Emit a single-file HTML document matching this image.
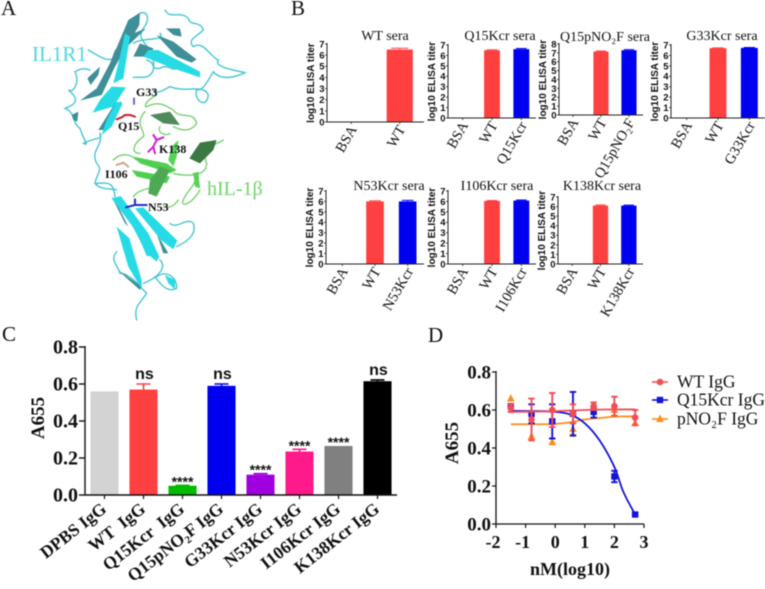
<!DOCTYPE html>
<html lang="en">
<head>
<meta charset="utf-8">
<title>IL-1β antibody figure</title>
<style>
html,body{margin:0;padding:0;background:#fff;width:765px;height:589px;overflow:hidden}
svg{display:block;filter:blur(0.45px)}
text{fill:#111}
.serif{font-family:"Liberation Serif",serif}
.sans{font-family:"Liberation Sans",sans-serif}
</style>
</head>
<body>
<svg id="figure" xmlns="http://www.w3.org/2000/svg" width="765" height="589" viewBox="0 0 765 589">
  <rect width="765" height="589" fill="#fff"/>
  <text class="serif" x="1" y="15" font-size="21">A</text>
  <text class="serif" x="291" y="15" font-size="21">B</text>
  <text class="serif" x="2" y="341" font-size="21">C</text>
  <text class="serif" x="428" y="342" font-size="21">D</text>

  <g>
    <g transform="scale(0.3333)">
      <g fill="none" stroke="#3fc4cf" stroke-width="4" stroke-linecap="round">
        <path d="M495 30C510 60 540 30 565 55C570 80 600 60 610 90C590 110 560 120 580 140C610 120 630 170 655 180C640 200 700 210 735 218C700 235 660 240 640 215"/>
        <path d="M420 40C445 30 450 60 430 85C400 130 470 130 460 210C450 240 420 230 400 232"/>
        <path d="M400 130C430 110 500 125 480 100"/>
        <path d="M640 215C620 250 610 270 590 270C580 300 620 330 625 285C610 250 560 280 510 260C490 270 470 285 460 270"/>
        <path d="M265 150C300 170 320 190 355 170"/>
        <path d="M270 210C240 200 230 215 225 215C240 250 220 280 205 270C230 290 240 310 195 325C230 340 215 370 240 385C250 420 270 440 250 430C290 410 310 420 300 400"/>
        <path d="M300 400C310 440 270 450 290 490C310 510 290 520 285 550C320 550 340 540 345 590"/>
        <path d="M530 740C570 720 590 700 580 670C560 650 530 690 510 670"/>
        <path d="M350 755C330 780 350 790 360 820C390 820 420 860 440 880C420 910 400 920 410 960"/>
        <path d="M470 830C500 810 530 830 530 865C500 880 480 850 465 830"/>
        <path d="M480 780C500 800 480 830 430 850"/>
        <path d="M440 180C470 190 450 210 480 205C500 190 520 215 530 205"/>
        <path d="M285 550C300 570 330 565 350 570"/>
      </g>
      <g fill="#3f8f98">
        <polygon points="385,60 420,38 418,75 345,200 305,285 240,302 290,265 330,190"/>
        <polygon points="438,85 350,170 330,190 345,150 400,100"/>
        <polygon points="470,105 520,125 590,178 575,188 530,170"/>
        <polygon points="498,85 540,85 545,110 520,105"/>
        <polygon points="262,235 300,200 295,225 272,255"/>
        <polygon points="215,345 235,335 232,365 220,360"/>
        <polygon points="335,590 345,600 385,680 375,670"/>
        <polygon points="470,700 505,760 490,760"/>
        <polygon points="355,810 425,860 420,870 375,830"/>
        <polygon points="420,130 460,145 450,170 400,170"/>
        <polygon points="295,390 345,310 365,305 320,390"/>
      </g>
      <g fill="#27dbe6">
        <polygon points="445,150 475,150 600,215 600,232 520,205 430,170"/>
        <polygon points="335,260 378,262 340,320 278,338 300,300"/>
        <polygon points="350,305 368,310 335,380 305,405 320,360"/>
        <polygon points="360,170 375,100 390,110 370,235 340,250"/>
        <polygon points="335,595 362,588 445,700 478,770 470,785 440,760 398,680"/>
        <polygon points="405,625 430,622 532,722 520,748 485,722"/>
        <polygon points="350,680 388,715 425,840 425,868 385,800"/>
        <polygon points="395,660 420,680 470,770 440,768"/>
        <polygon points="495,825 525,840 525,868 505,850"/>
      </g>
      <g fill="none" stroke="#74cf6e" stroke-width="4" stroke-linecap="round">
        <path d="M440 320C480 300 500 320 520 330C540 360 580 330 590 370C570 400 540 390 520 380"/>
        <path d="M435 335C400 370 440 400 430 410C400 430 390 460 420 460"/>
        <path d="M340 480C370 450 400 470 410 480"/>
        <path d="M520 520C560 530 620 530 620 490C600 440 640 440 670 420"/>
        <path d="M580 520C600 550 560 570 550 600C540 620 570 620 600 570"/>
        <path d="M400 590C420 560 470 570 470 550"/>
        <path d="M470 285C440 300 430 320 440 320M480 380C470 400 500 410 510 400"/>
        <path d="M535 600C520 620 510 625 490 620"/>
      </g>
      <g>
        <polygon fill="#4fcf4f" points="400,470 500,490 530,510 510,520 420,490"/>
        <polygon fill="#4fcf4f" points="395,510 510,530 500,550 410,530"/>
        <polygon fill="#4fa854" points="450,540 480,500 510,510 470,590 445,580"/>
        <polygon fill="#3a7a42" points="568,475 600,428 650,420 640,450 600,490"/>
        <polygon fill="#56d456" points="505,480 515,440 535,420 530,470 520,500"/>
        <polygon fill="#4e8a5a" points="450,345 510,335 540,375 490,370"/>
        <polygon fill="#56d456" points="580,520 595,515 600,565 585,560"/>
      </g>
      <g fill="none" stroke-width="6" stroke-linecap="round">
        <path stroke="#6a6ad0" d="M402 295V312"/>
        <path stroke="#c8202a" d="M350 358L365 352L375 345L390 345L405 350"/>
        <path stroke="#d020d0" d="M460 405L470 420L490 412M470 420L460 440L445 455M460 440L465 460"/>
        <path stroke="#c8a68e" d="M350 495L370 488L385 500"/>
        <path stroke="#1a30c8" d="M378 622L405 615L405 598M405 615L440 615"/>
      </g>
    </g>
    <text class="serif" x="32" y="61" font-size="21" style="fill:#4fd8e0">IL1R1</text>
    <text class="serif" x="207" y="195" font-size="20" style="fill:#6fd46a">hIL-1β</text>
    <g class="serif" font-size="12" font-weight="bold">
      <text x="136" y="96">G33</text>
      <text x="118" y="130">Q15</text>
      <text x="159" y="153">K138</text>
      <text x="105" y="178">I106</text>
      <text x="148" y="211">N53</text>
    </g>
  </g>
</svg>
<script>
// Panel B data
const wtSeraCategories = ['BSA', 'WT'];
const wtSeraValues = [0, 6.5];
const wtSeraErrors = [0, 0.12];
const wtSeraTicks = [0, 1, 2, 3, 4, 5, 6, 7];

const q15SeraCategories = ['BSA', 'WT', 'Q15Kcr'];
const q15SeraValues = [0, 6.5, 6.6];
const q15SeraErrors = [0, 0.05, 0.07];
const q15SeraTicks = [0, 1, 2, 3, 4, 5, 6, 7];

const pno2SeraCategories = ['BSA', 'WT', 'Q15pNO\u2082F'];
const pno2SeraValues = [0, 7.15, 7.3];
const pno2SeraErrors = [0, 0.06, 0.06];
const pno2SeraTicks = [0, 1, 2, 3, 4, 5, 6, 7, 8];

const g33SeraCategories = ['BSA', 'WT', 'G33Kcr'];
const g33SeraValues = [0, 6.7, 6.72];
const g33SeraErrors = [0, 0.02, 0.04];
const g33SeraTicks = [0, 1, 2, 3, 4, 5, 6, 7];

const n53SeraCategories = ['BSA', 'WT', 'N53Kcr'];
const n53SeraValues = [0, 6.0, 6.0];
const n53SeraErrors = [0, 0.07, 0.1];
const n53SeraTicks = [0, 1, 2, 3, 4, 5, 6, 7];

const i106SeraCategories = ['BSA', 'WT', 'I106Kcr'];
const i106SeraValues = [0, 6.05, 6.08];
const i106SeraErrors = [0, 0.04, 0.06];
const i106SeraTicks = [0, 1, 2, 3, 4, 5, 6, 7];

const k138SeraCategories = ['BSA', 'WT', 'K138Kcr'];
const k138SeraValues = [0, 6.1, 6.1];
const k138SeraErrors = [0, 0.06, 0.05];
const k138SeraTicks = [0, 1, 2, 3, 4, 5, 6, 7];

// Panel C data
const igGCategories = ['DPBS IgG', 'WT  IgG', 'Q15Kcr  IgG', 'Q15pNO\u2082F IgG', 'G33Kcr IgG', 'N53Kcr IgG', 'I106Kcr IgG', 'K138Kcr IgG'];
const igGValues = [0.56, 0.57, 0.05, 0.59, 0.11, 0.235, 0.265, 0.615];
const igGErrors = [0, 0.03, 0.002, 0.01, 0.005, 0.012, 0, 0.007];
const igGSignificance = ['', 'ns', '****', 'ns', '****', '****', '****', 'ns'];
const igGColors = ['#d3d3d3', '#ff4040', '#00bb00', '#0000f0', '#a000e0', '#ff1a8c', '#808080', '#000000'];
const igGTicks = [0, 0.2, 0.4, 0.6, 0.8];

// Panel D data
const doseX = [-1.5, -0.8, -0.1, 0.6, 1.3, 2, 2.7];
const wtDose = [0.61, 0.55, 0.6, 0.58, 0.62, 0.62, 0.56];
const wtDoseErr = [0.02, 0.11, 0.09, 0.05, 0.02, 0.05, 0.04];
const q15Dose = [0.62, 0.58, 0.54, 0.58, 0.59, 0.25, 0.05];
const q15DoseErr = [0.01, 0.05, 0.09, 0.115, 0.03, 0.03, 0.008];
const pno2Dose = [0.66, 0.46, 0.43, 0.5, 0.62, 0.6, 0.53];
const pno2DoseErr = [0, 0, 0, 0.03, 0, 0, 0];
const fitX = [-1.5, -0.5, 0, 0.5, 1, 1.5, 2, 2.3, 2.7];
const wtFit = [0.59, 0.592, 0.594, 0.597, 0.6, 0.602, 0.603, 0.603, 0.603];
const q15Fit = [0.595, 0.594, 0.591, 0.577, 0.53, 0.44, 0.3, 0.17, 0.05];
const pno2Fit = [0.525, 0.525, 0.527, 0.535, 0.55, 0.558, 0.565, 0.566, 0.566];
const doseXTicks = [-2, -1, 0, 1, 2, 3];
const doseYTicks = [0, 0.2, 0.4, 0.6, 0.8];
const legendLabels = ['WT IgG', 'Q15Kcr IgG', 'pNO\u2082F IgG'];

const NS = 'http://www.w3.org/2000/svg';
const root = document.getElementById('figure');

function make(tag, attrs, parent, text) {
  const el = document.createElementNS(NS, tag);
  for (const k in attrs) el.setAttribute(k, attrs[k]);
  if (text !== undefined) el.textContent = text;
  (parent || root).appendChild(el);
  return el;
}
function linear(d0, d1, r0, r1) {
  return v => r0 + (v - d0) * (r1 - r0) / (d1 - d0);
}

function elisaPanel(o) {
  const g = make('g', {});
  
  
  const y = linear(0, o.ticks[o.ticks.length - 1], o.y0, o.y1);
  const band = (o.x1 - o.x0) / o.cats.length;
  const title = make('text', {class: 'serif', x: o.tx, y: o.ty, 'font-size': o.tf || 14, 'text-anchor': 'middle'}, g, o.title);
  
  
  o.cats.forEach((c, i) => {
    const cx = o.x0 + band * (i + 0.5);
    const w = band * 0.54;
    if (o.vals[i] > 0) {
      const bar = make('rect', {x: cx - w / 2, y: y(o.vals[i]), width: w, height: o.y0 - y(o.vals[i]), fill: i === 1 ? '#ff4040' : '#0000f0'}, g);
      
      
      const err = make('path', {d: `M${cx} ${y(o.vals[i])}V${y(o.vals[i] + o.errs[i])}M${cx - w / 3} ${y(o.vals[i] + o.errs[i])}H${cx + w / 3}`, stroke: i === 1 ? '#ff4040' : '#0000f0', 'stroke-width': 1, fill: 'none'}, g);
      
      
    }
    const tick = make('line', {x1: cx, x2: cx, y1: o.y0, y2: o.y0 + 2, stroke: '#222', 'stroke-width': 0.8}, g);
    
    
    const lab = make('text', {class: 'serif', 'font-size': 14.5, 'text-anchor': 'end', transform: `translate(${cx + 6} ${o.y0 + 7}) rotate(-60)`}, g, c);
    
    
  });
  o.ticks.forEach(t => {
    const tick = make('line', {x1: o.x0 - 2, x2: o.x0, y1: y(t), y2: y(t), stroke: '#222', 'stroke-width': 0.8}, g);
    
    
    const lab = make('text', {class: 'sans', 'font-size': 9.5, 'font-weight': 'bold', x: o.x0 - 2.5, y: y(t) + 3.4, 'text-anchor': 'end'}, g, t);
    
    
  });
  const axes = make('path', {d: `M${o.x0} ${o.y1 - 1}V${o.y0}H${o.x1}`, fill: 'none', stroke: '#222', 'stroke-width': 1}, g);
  
  
  const yt = make('text', {class: 'sans', 'font-size': 10, 'font-weight': 'bold', 'text-anchor': 'middle', transform: `translate(${o.x0 - 13} ${(o.y0 + o.y1) / 2}) rotate(-90)`}, g, 'log10 ELISA titer');
  
  
}

elisaPanel({key: 'wt-sera', title: 'WT sera', tx: 385, ty: 40, x0: 327, x1: 424, y0: 122, y1: 44, cats: wtSeraCategories, vals: wtSeraValues, errs: wtSeraErrors, ticks: wtSeraTicks});
elisaPanel({key: 'q15kcr-sera', title: 'Q15Kcr sera', tx: 500, ty: 40, x0: 448, x1: 536, y0: 118, y1: 45, cats: q15SeraCategories, vals: q15SeraValues, errs: q15SeraErrors, ticks: q15SeraTicks});
elisaPanel({key: 'q15pno2f-sera', title: 'Q15pNO\u2082F sera', tx: 605, ty: 41, tf: 14, x0: 559, x1: 643, y0: 115, y1: 44, cats: pno2SeraCategories, vals: pno2SeraValues, errs: pno2SeraErrors, ticks: pno2SeraTicks});
elisaPanel({key: 'g33kcr-sera', title: 'G33Kcr sera', tx: 722, ty: 40, x0: 671, x1: 765, y0: 118, y1: 45, cats: g33SeraCategories, vals: g33SeraValues, errs: g33SeraErrors, ticks: g33SeraTicks});
elisaPanel({key: 'n53kcr-sera', title: 'N53Kcr sera', tx: 389, ty: 190, x0: 326, x1: 424, y0: 264, y1: 191, cats: n53SeraCategories, vals: n53SeraValues, errs: n53SeraErrors, ticks: n53SeraTicks});
elisaPanel({key: 'i106kcr-sera', title: 'I106Kcr sera', tx: 497, ty: 190, x0: 448, x1: 536, y0: 264, y1: 191, cats: i106SeraCategories, vals: i106SeraValues, errs: i106SeraErrors, ticks: i106SeraTicks});
elisaPanel({key: 'k138kcr-sera', title: 'K138Kcr sera', tx: 602, ty: 190, x0: 558, x1: 643, y0: 264, y1: 197, cats: k138SeraCategories, vals: k138SeraValues, errs: k138SeraErrors, ticks: k138SeraTicks});

// Panel C
(function () {
  const g = make('g', {});
  
  
  const x0 = 85, x1 = 397, y0 = 495;
  const y = linear(0, 0.8, y0, 347);
  const band = (x1 - x0) / igGCategories.length;
  igGCategories.forEach((c, i) => {
    const cx = x0 + band * (i + 0.5);
    const w = band * 0.72;
    const top = y(igGValues[i]);
    const etop = y(igGValues[i] + igGErrors[i]);
    const bar = make('rect', {x: cx - w / 2, y: top, width: w, height: y0 - top, fill: igGColors[i]}, g);
    
    
    if (igGErrors[i] > 0) {
      const err = make('path', {d: `M${cx} ${top}V${etop}M${cx - 7} ${etop}H${cx + 7}`, stroke: igGColors[i], 'stroke-width': 1.6, fill: 'none'}, g);
      
      
    }
    const s = igGSignificance[i];
    if (s === 'ns') {
      const sig = make('text', {class: 'sans', 'font-size': 16, 'font-weight': 'bold', x: cx + 1, y: etop - 5, 'text-anchor': 'middle'}, g, s);
      
      
    } else if (s) {
      const sig = make('text', {class: 'sans', 'font-size': 14, 'font-weight': 'bold', x: cx, y: etop + 1, 'text-anchor': 'middle'}, g, s);
      
      
    }
    const tick = make('line', {x1: cx, x2: cx, y1: y0, y2: y0 + 4, stroke: '#111', 'stroke-width': 1.2}, g);
    
    
    const lab = make('text', {class: 'serif', 'font-size': 17.5, 'font-weight': 'bold', 'text-anchor': 'end', transform: `translate(${cx + 3} ${y0 + 16}) rotate(-38)`, style: 'white-space:pre'}, g, c);
    
    
  });
  igGTicks.forEach(t => {
    const tick = make('line', {x1: x0 - 6, x2: x0, y1: y(t), y2: y(t), stroke: '#111', 'stroke-width': 1.4}, g);
    
    
    const lab = make('text', {class: 'serif', 'font-size': 20, 'font-weight': 'bold', x: x0 - 7, y: y(t) + 6.5, 'text-anchor': 'end'}, g, t.toFixed(1));
    
    
  });
  const axes = make('path', {d: `M${x0} 346V${y0}H${x1}`, fill: 'none', stroke: '#111', 'stroke-width': 1.4}, g);
  
  
  const yt = make('text', {class: 'serif', 'font-size': 19, 'font-weight': 'bold', 'text-anchor': 'middle', transform: 'translate(44 418) rotate(-90)'}, g, 'A655');
  
  
})();

// Panel D
(function () {
  const g = make('g', {});
  
  
  const x = linear(-2, 3, 496, 644);
  const y = linear(0, 0.8, 524, 372);

  function smooth(xs, ys) {
    const p = xs.map((v, i) => [x(v), y(ys[i])]);
    let d = `M${p[0][0]} ${p[0][1]}`;
    for (let i = 0; i < p.length - 1; i++) {
      const a = p[Math.max(i - 1, 0)], b = p[i], c = p[i + 1], e = p[Math.min(i + 2, p.length - 1)];
      d += `C${b[0] + (c[0] - a[0]) / 6} ${b[1] + (c[1] - a[1]) / 6} ${c[0] - (e[0] - b[0]) / 6} ${c[1] - (e[1] - b[1]) / 6} ${c[0]} ${c[1]}`;
    }
    return d;
  }
  function marker(shape, cx, cy, color, parent) {
    if (shape === 'circle') return make('circle', {cx: cx, cy: cy, r: 3.3, fill: color}, parent);
    if (shape === 'square') return make('rect', {x: cx - 3.2, y: cy - 3.2, width: 6.4, height: 6.4, fill: color}, parent);
    return make('polygon', {points: `${cx},${cy - 4.5} ${cx + 3.9},${cy + 3} ${cx - 3.9},${cy + 3}`, fill: color}, parent);
  }
  function series(name, vals, errs, fit, color, shape) {
    const s = make('g', {}, g);
    
    
    const line = make('path', {d: smooth(fitX, fit), fill: 'none', stroke: color, 'stroke-width': 1.8}, s);
    
    
    doseX.forEach((v, i) => {
      const cx = x(v);
      const a = y(vals[i] + errs[i]), b = y(vals[i] - errs[i]);
      if (errs[i] > 0) {
        const err = make('path', {d: `M${cx} ${a}V${b}M${cx - 3.2} ${a}H${cx + 3.2}M${cx - 3.2} ${b}H${cx + 3.2}`, fill: 'none', stroke: color, 'stroke-width': 1.9}, s);
        
        
      }
      const pt = marker(shape, cx, y(vals[i]), color, s);
      
      
    });
  }
  series('pno2f-igg', pno2Dose, pno2DoseErr, pno2Fit, '#ff8c1a', 'triangle');
  series('q15kcr-igg', q15Dose, q15DoseErr, q15Fit, '#1414d8', 'square');
  series('wt-igg', wtDose, wtDoseErr, wtFit, '#f24c56', 'circle');

  doseXTicks.forEach(t => {
    const tick = make('line', {x1: x(t), x2: x(t), y1: 524, y2: 528, stroke: '#111', 'stroke-width': 1.2}, g);
    
    
    const lab = make('text', {class: 'serif', 'font-size': 18, 'font-weight': 'bold', x: x(t) - (t < 0 ? 3 : 0), y: 548, 'text-anchor': 'middle'}, g, t);
    
    
  });
  doseYTicks.forEach(t => {
    const tick = make('line', {x1: 492, x2: 496, y1: y(t), y2: y(t), stroke: '#111', 'stroke-width': 1.2}, g);
    
    
    const lab = make('text', {class: 'serif', 'font-size': 19, 'font-weight': 'bold', x: 491, y: y(t) + 6.5, 'text-anchor': 'end'}, g, t.toFixed(1));
    
    
  });
  const axes = make('path', {d: 'M496 371V524H644', fill: 'none', stroke: '#111', 'stroke-width': 1.3}, g);
  
  
  const yt = make('text', {class: 'serif', 'font-size': 19, 'font-weight': 'bold', 'text-anchor': 'middle', transform: 'translate(458 443) rotate(-90)'}, g, 'A655');
  
  
  const xt = make('text', {class: 'serif', 'font-size': 18, 'font-weight': 'bold', 'text-anchor': 'middle', x: 570, y: 575}, g, 'nM(log10)');
  
  

  const legendColors = ['#f24c56', '#1414d8', '#ff8c1a'];
  const legendShapes = ['circle', 'square', 'triangle'];
  const legendRowY = [382, 400, 419];
  legendLabels.forEach((l, i) => {
    const e = make('g', {}, g);
    
    
    const ln = make('line', {x1: 652, x2: 668, y1: legendRowY[i], y2: legendRowY[i], stroke: legendColors[i], 'stroke-width': 1.6}, e);
    
    
    const m = marker(legendShapes[i], 660, legendRowY[i], legendColors[i], e);
    
    
    const t = make('text', {class: 'serif', 'font-size': 17.5, x: 677, y: legendRowY[i] + 5.5}, e, l);
    
    
  });
})();
</script>
</body>
</html>
